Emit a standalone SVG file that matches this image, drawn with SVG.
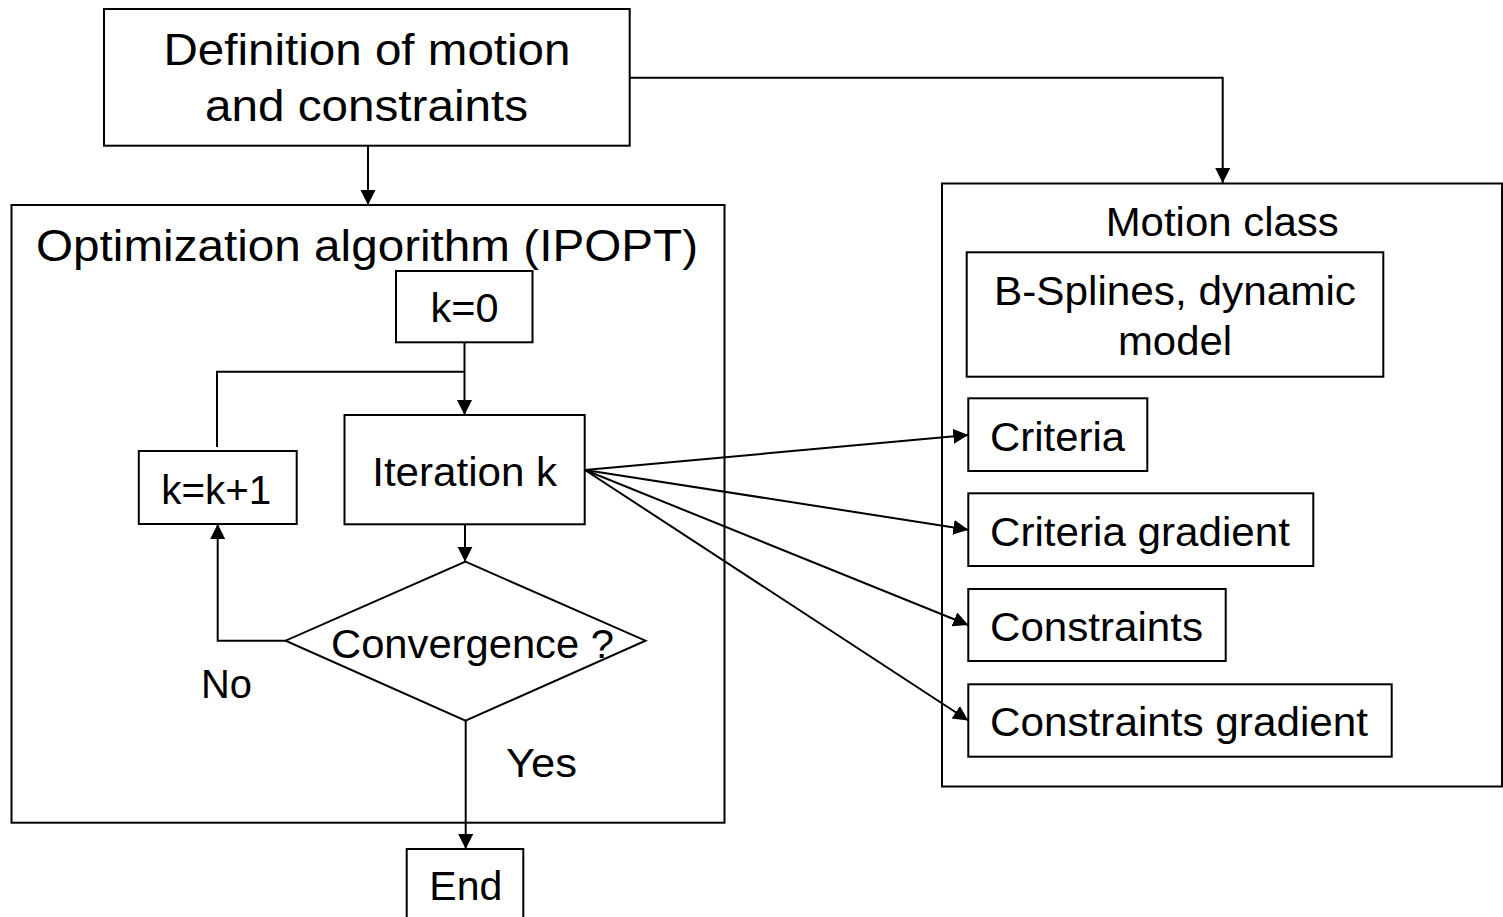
<svg xmlns="http://www.w3.org/2000/svg" width="1503" height="917" viewBox="0 0 1503 917">
<style>
.box{fill:#fff;stroke:#000;stroke-width:2}
.frame{fill:none;stroke:#000;stroke-width:2}
.conn{fill:none;stroke:#000;stroke-width:2}
text{font-family:"Liberation Sans",Arial,sans-serif;fill:#000}
.big{font-size:45px}
.t{font-size:40px}
</style>
<defs>
<marker id="ah" markerUnits="userSpaceOnUse" markerWidth="16" markerHeight="16" refX="15" refY="7.5" orient="auto">
<path d="M0,0 L15,7.5 L0,15 z" fill="#000"/>
</marker>
</defs>
<rect width="1503" height="917" fill="#fff"/>

<g id="optimization">
<rect class="frame" x="11.5" y="205" width="713" height="617.7"/>
<text class="big" x="36" y="261" textLength="662" lengthAdjust="spacingAndGlyphs">Optimization algorithm (IPOPT)</text>
</g>

<g id="motion-class">
<rect class="frame" x="942" y="183.5" width="560" height="603"/>
<text class="t" x="1105.7" y="236" textLength="233" lengthAdjust="spacingAndGlyphs">Motion class</text>
</g>

<g id="connectors">
<line class="conn" x1="368" y1="146" x2="368" y2="205" marker-end="url(#ah)"/>
<polyline class="conn" points="630,77.7 1222.7,77.7 1222.7,183" marker-end="url(#ah)"/>
<line class="conn" x1="464.5" y1="342.3" x2="464.5" y2="415" marker-end="url(#ah)"/>
<polyline class="conn" points="217,447 217,371.7 464.5,371.7"/>
<line class="conn" x1="465" y1="524.3" x2="465" y2="561.7" marker-end="url(#ah)"/>
<polyline class="conn" points="286,640.7 217.7,640.7 217.7,524" marker-end="url(#ah)"/>
<line class="conn" x1="465.7" y1="720.7" x2="465.7" y2="849" marker-end="url(#ah)"/>
<line class="conn" x1="585" y1="470" x2="968.3" y2="435" marker-end="url(#ah)"/>
<line class="conn" x1="585" y1="470" x2="968.3" y2="529.7" marker-end="url(#ah)"/>
<line class="conn" x1="585" y1="470" x2="968.3" y2="625" marker-end="url(#ah)"/>
<line class="conn" x1="585" y1="470" x2="968.3" y2="720.5" marker-end="url(#ah)"/>
</g>

<g id="definition">
<rect class="box" x="104" y="9" width="525.7" height="136.7"/>
<text class="big" x="367" y="64.5" text-anchor="middle" textLength="407" lengthAdjust="spacingAndGlyphs">Definition of motion</text>
<text class="big" x="366.5" y="120.5" text-anchor="middle" textLength="323" lengthAdjust="spacingAndGlyphs">and constraints</text>
</g>

<g id="k0">
<rect class="box" x="396" y="271" width="136.5" height="71.3"/>
<text class="t" x="430.6" y="321.7" textLength="68" lengthAdjust="spacingAndGlyphs">k=0</text>
</g>

<g id="iteration">
<rect class="box" x="344.5" y="415" width="240.2" height="109.3"/>
<text class="t" x="372.2" y="486" textLength="185" lengthAdjust="spacingAndGlyphs">Iteration k</text>
</g>

<g id="kinc">
<rect class="box" x="138.8" y="451" width="157.9" height="73"/>
<text class="t" x="161.2" y="503.5" textLength="110" lengthAdjust="spacingAndGlyphs">k=k+1</text>
</g>

<g id="convergence">
<polygon class="box" points="465.5,561.7 645.5,640.7 465.5,720.7 285.6,640.7"/>
<text class="t" x="331" y="658.3" textLength="283" lengthAdjust="spacingAndGlyphs">Convergence ?</text>
</g>

<g id="label-no">
<text class="t" x="201" y="697.7" textLength="51" lengthAdjust="spacingAndGlyphs">No</text>
</g>
<g id="label-yes">
<text class="t" x="506" y="776.5" textLength="71" lengthAdjust="spacingAndGlyphs">Yes</text>
</g>

<g id="end">
<rect class="box" x="406.7" y="849" width="116.6" height="80"/>
<text class="t" x="429.3" y="900" textLength="73" lengthAdjust="spacingAndGlyphs">End</text>
</g>

<g id="bsplines">
<rect class="box" x="966.7" y="252.3" width="416.6" height="124.4"/>
<text class="t" x="1175" y="305" text-anchor="middle" textLength="362" lengthAdjust="spacingAndGlyphs">B-Splines, dynamic</text>
<text class="t" x="1175" y="355" text-anchor="middle" textLength="114" lengthAdjust="spacingAndGlyphs">model</text>
</g>

<g id="criteria">
<rect class="box" x="968.3" y="398.3" width="179" height="72.7"/>
<text class="t" x="990" y="451" textLength="135" lengthAdjust="spacingAndGlyphs">Criteria</text>
</g>

<g id="criteria-gradient">
<rect class="box" x="968.3" y="493.3" width="345" height="72.7"/>
<text class="t" x="990" y="546" textLength="300" lengthAdjust="spacingAndGlyphs">Criteria gradient</text>
</g>

<g id="constraints">
<rect class="box" x="968.3" y="589" width="257.4" height="72"/>
<text class="t" x="990" y="640.7" textLength="213" lengthAdjust="spacingAndGlyphs">Constraints</text>
</g>

<g id="constraints-gradient">
<rect class="box" x="968.3" y="684.3" width="423.4" height="72.4"/>
<text class="t" x="990" y="735.7" textLength="378" lengthAdjust="spacingAndGlyphs">Constraints gradient</text>
</g>
</svg>
